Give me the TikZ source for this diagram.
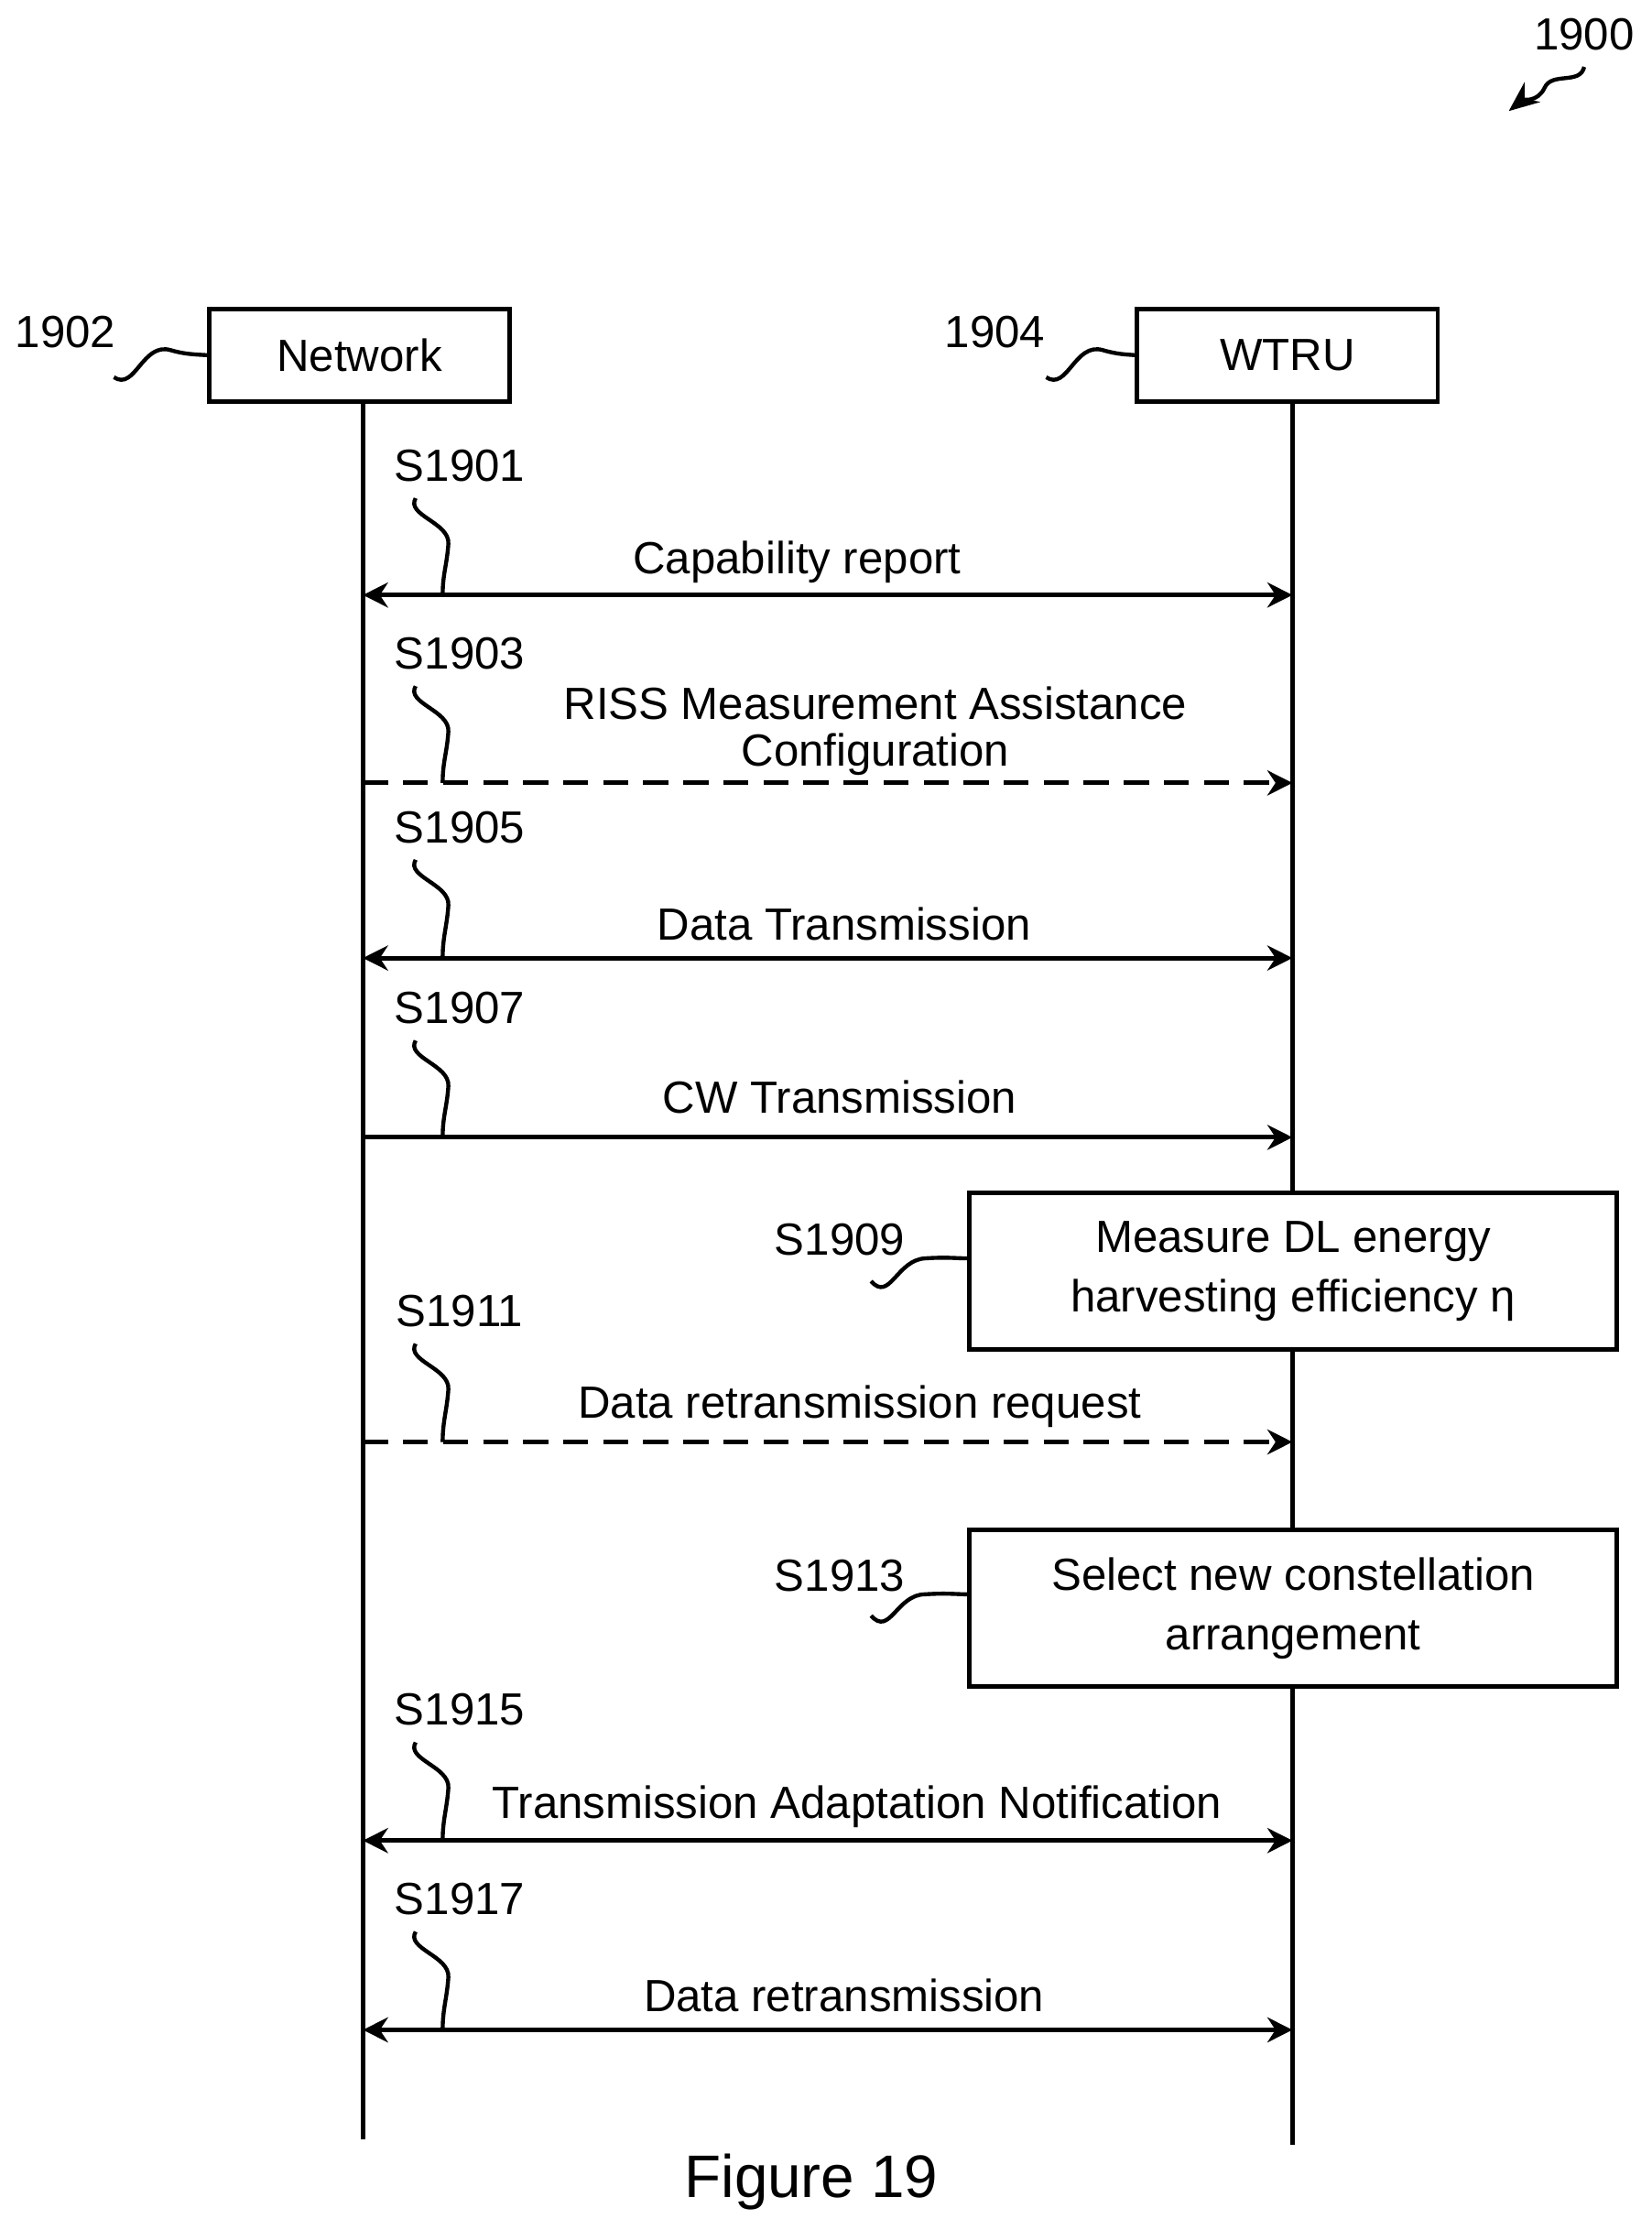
\documentclass[tikz,border=0pt]{standalone}
\usepackage{fontspec}
\setmainfont{Liberation Sans}
\usetikzlibrary{arrows.meta}
\begin{document}
\begin{tikzpicture}[x=0.01cm,y=-0.01cm,font=\fontsize{9}{10}\selectfont,
  box/.style={draw,line width=0.9pt,minimum height=0.65cm,inner sep=0pt},
  line/.style={line width=0.9pt},
  msg/.style={line width=0.9pt,-{Stealth[length=5pt,width=5pt]}},
  dmsg/.style={line width=0.9pt,{Stealth[length=5pt,width=5pt]}-{Stealth[length=5pt,width=5pt]}},
  sq/.style={line width=0.8pt},
  lbl/.style={inner sep=0pt}]
\useasboundingbox (0,0) rectangle (1160,1566.6);
% top reference
\node[lbl] (n1900) at (1113,24) {1900};
\draw[sq,-{Stealth[length=6pt,width=5pt]}] (1113,47) .. controls (1110,60) and (1090,50) .. (1085,62) .. controls (1080,72) and (1070,70) .. (1060,78);
% participants
\node[box,minimum width=2.11cm] (net) at (252.5,249.5) {Network};
\node[box,minimum width=2.11cm] (wtru) at (904.5,249.5) {WTRU};
\node[lbl] (n1902) at (46,233) {1902};
\node[lbl] (n1904) at (699,233) {1904};
\draw[sq] (80,265) .. controls (95,275) and (100,240) .. (120,246) .. controls (130,249) and (138,249) .. (net.west);
\draw[sq] (735,265) .. controls (750,275) and (755,240) .. (775,246) .. controls (785,249) and (792,249) .. (wtru.west);
\coordinate (nb) at (255,1503);
\coordinate (wb) at (908,1507);
\draw[line] (255,282) -- (nb);
\draw[line] (908,282) -- (908,838);
\draw[line] (908,948) -- (908,1075);
\draw[line] (908,1185) -- (wb);
% step boxes
\node[box,minimum width=4.55cm,minimum height=1.1cm,align=center] (b1909) at (908.5,893) {Measure DL energy\\[2pt]harvesting efficiency η};
\node[box,minimum width=4.55cm,minimum height=1.1cm,align=center] (b1913) at (908.5,1130) {Select new constellation\\[2pt]arrangement};
\node[lbl] (s1909) at (590,871) {S1909};
\node[lbl] (s1913) at (590,1107) {S1913};
\draw[sq] (612,900) .. controls (625,915) and (630,885) .. (650,884) .. controls (665,883) and (672,884) .. (b1909.west|-0,884);
\draw[sq] (612,1135) .. controls (625,1150) and (630,1120) .. (650,1120) .. controls (665,1119) and (672,1120) .. (b1913.west|-0,1120);
% messages
\foreach \nm/\y/\ly in {1901/418/327, 1903/550/459, 1905/673/581, 1907/799/708, 1911/1013/921, 1915/1293/1201, 1917/1426/1334}{
  \coordinate (L\nm) at (255,\y);
  \coordinate (R\nm) at (908,\y);
  \node[lbl] (s\nm) at (323,\ly) {S\nm};
  \draw[sq] (292,\ly+23) .. controls (285,\ly+35) and (316,\ly+40) .. (315,\ly+55) .. controls (314,\ly+70) and (311,\y-15) .. (311,\y);
}
\draw[dmsg] (L1901) -- (R1901);
\draw[msg,dashed,dash pattern=on 5pt off 3pt] (L1903) -- (R1903);
\draw[dmsg] (L1905) -- (R1905);
\draw[msg] (L1907) -- (R1907);
\draw[msg,dashed,dash pattern=on 5pt off 3pt] (L1911) -- (R1911);
\draw[dmsg] (L1915) -- (R1915);
\draw[dmsg] (L1917) -- (R1917);
\node[lbl] (m1) at (560,395) {Capability report};
\node[lbl] (m2a) at (615,494) {RISS Measurement Assistance};
\node[lbl] (m2b) at (615,530) {Configuration};
\node[lbl] (m3) at (593,649) {Data Transmission};
\node[lbl] (m4) at (590,771) {CW Transmission};
\node[lbl] (m5) at (604,988) {Data retransmission request};
\node[lbl] (m6) at (602,1269) {Transmission Adaptation Notification};
\node[lbl] (m7) at (593,1402) {Data retransmission};
\node[lbl,font=\fontsize{12}{14}\selectfont] (fig) at (570,1533) {Figure 19};
\end{tikzpicture}
\end{document}
